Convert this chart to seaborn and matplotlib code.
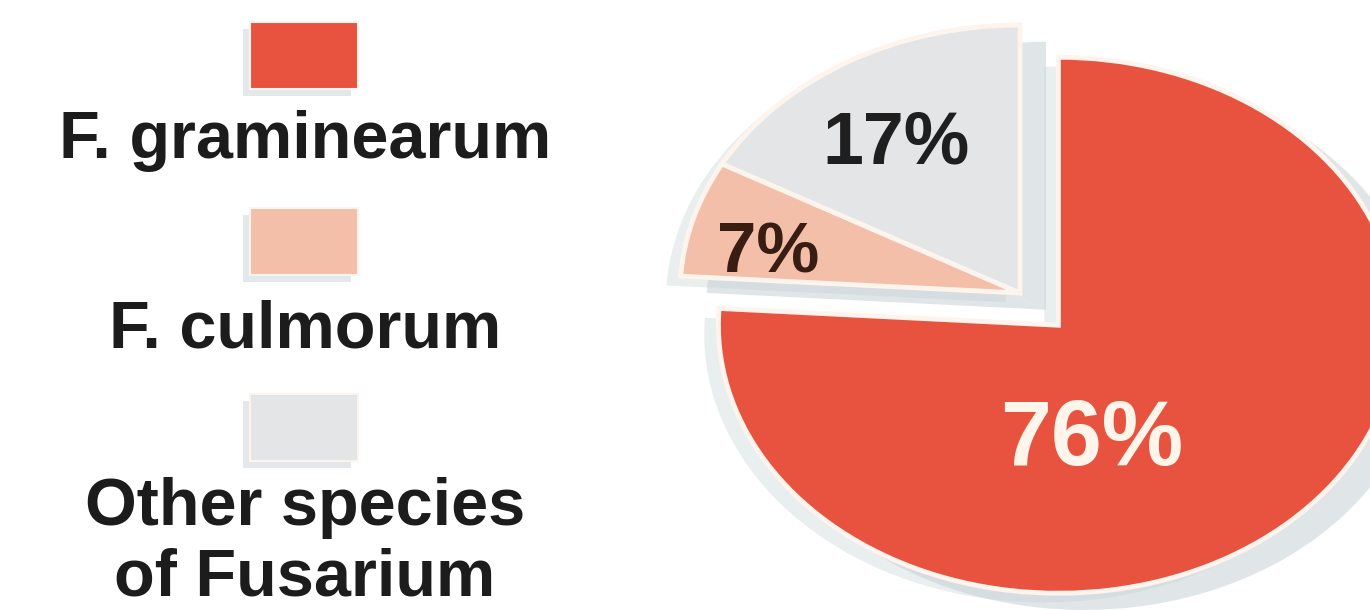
import matplotlib
matplotlib.use("Agg")
import matplotlib.pyplot as plt
import matplotlib.patches as mpatches
import seaborn as sns

# Share of Fusarium species
species = ["F. graminearum", "F. culmorum", "Other species\nof Fusarium"]
shares = [76, 7, 17]
colors = ["#e8533f", "#f4bfa9", "#e3e5e6"]
label_colors = ["#fff5ea", "#3a1d12", "#1f1f1f"]

sns.set_theme(style="white")
plt.rcParams["font.family"] = ["Liberation Sans", "DejaVu Sans"]

W, H = 1370, 610
fig = plt.figure(figsize=(W / 100, H / 100), dpi=100)
fig.patch.set_facecolor("white")

# Pie axes over the whole figure; unequal x/y scaling gives a tilted (elliptical) pie
ax = fig.add_axes([0, 0, 1, 1])
cx, cy = 1020, 317      # pie centre, pixels from bottom-left
rx, ry = 340, 268       # pixels per data unit in x and y
wedges, _ = ax.pie(
    shares, colors=colors, startangle=90, counterclock=False,
    explode=[0.165, 0, 0], radius=1.0,
    wedgeprops=dict(edgecolor="#fdf4ee", linewidth=3.5),
)
ax.set_aspect("auto")
ax.set_xlim(-cx / rx, (W - cx) / rx)
ax.set_ylim(-cy / ry, (H - cy) / ry)
ax.axis("off")

# soft drop shadows behind the wedges
for w in wedges:
    for ox, oy, a in [(0.055, -0.045, 0.5), (-0.03, -0.025, 0.35)]:
        ax.add_patch(mpatches.Shadow(w, ox, oy, facecolor="#c2cfd3",
                                     edgecolor="none", alpha=a))

# percentage labels
pct_pos = [(0.212, -0.642), (-0.741, 0.075), (-0.365, 0.485)]
pct_size = [66, 51, 53]
for v, (x, y), c, fs in zip(shares, pct_pos, label_colors, pct_size):
    ax.text(x, y, f"{v}%", ha="center", va="baseline", fontsize=fs,
            fontweight="bold", color=c)

# Legend: colour swatch above each species name, in pixel coordinates
lg = fig.add_axes([0, 0, 1, 1])
lg.set_xlim(0, W)
lg.set_ylim(H, 0)
lg.axis("off")
sw_x, sw_w, sw_h = 250, 108, 67
sw_top = [22, 208, 394]
txt_base = [158, 348, 525]
line_gap = 71
for name, col, top, base in zip(species, colors, sw_top, txt_base):
    r = mpatches.Rectangle((sw_x, top), sw_w, sw_h, facecolor=col,
                           edgecolor="#fdf4ee", linewidth=1.5)
    lg.add_patch(r)
    lg.add_patch(mpatches.Shadow(r, -5, 5, facecolor="#c9d3d6",
                                 edgecolor="none", alpha=0.5))
    for i, line in enumerate(name.split("\n")):
        lg.text(305, base + i * line_gap, line, ha="center", va="baseline",
                fontsize=48, fontweight="bold", color="#1c1c1c")

fig.savefig("out.png", dpi=100, facecolor="white")
